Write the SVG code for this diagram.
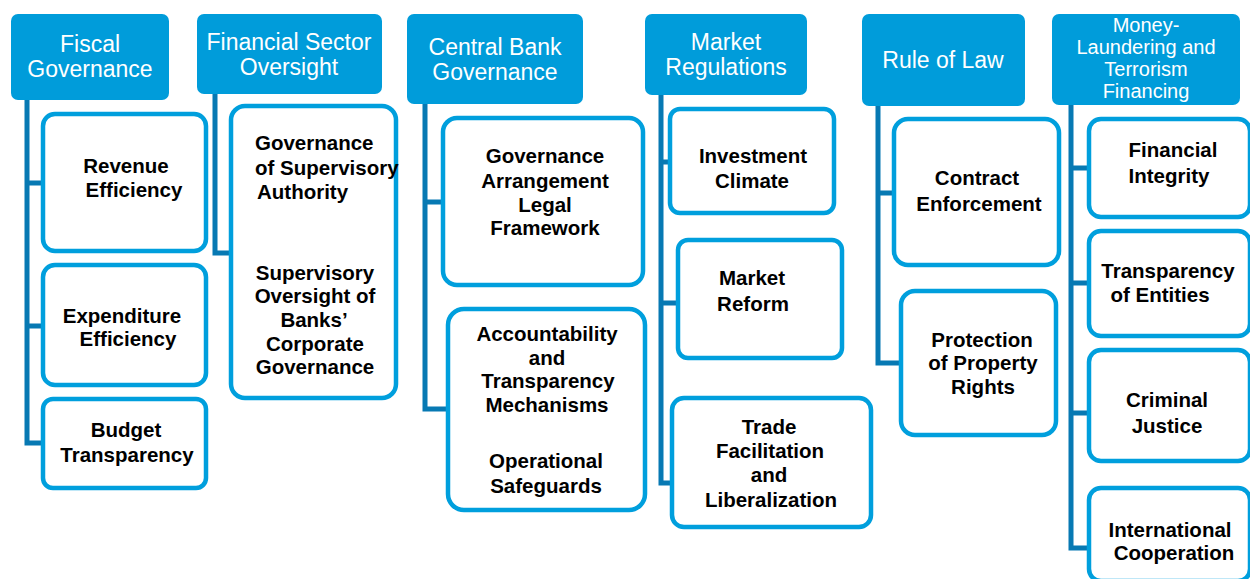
<svg xmlns="http://www.w3.org/2000/svg" width="1250" height="579" viewBox="0 0 1250 579">
<style>
.hd{fill:#009CDA}
.ht{fill:#fff;font-family:"Liberation Sans",Arial,sans-serif;font-size:23px;text-anchor:middle}
.ht2{font-size:20px}
.bx{fill:#fff;stroke:#009FDD;stroke-width:4.5}
.bt{fill:#000;font-family:"Liberation Sans",Arial,sans-serif;font-size:20.5px;font-weight:bold;text-anchor:middle}
.cn{fill:none;stroke:#0779B3;stroke-width:5}
</style>
<rect width="1250" height="579" fill="#fff"/>
<g id="connectors" class="cn">
<path d="M27 100V443H45M27 183H45M27 326H45"/>
<path d="M215 94V253H233"/>
<path d="M425 104V409H450M425 202H445"/>
<path d="M661 95V483H674M661 162H672M661 303H680"/>
<path d="M878 106V363H903M878 193H896"/>
<path d="M1071 105V548H1091M1071 168H1091M1071 283H1091M1071 413H1091"/>
</g>
<g id="fiscal">
<rect class="hd" x="11" y="14" width="158" height="86" rx="7"/>
<text class="ht" x="90" y="52">Fiscal</text>
<text class="ht" x="90" y="77">Governance</text>
</g>
<g id="revenue"><rect class="bx" x="43" y="114" width="163" height="137" rx="12"/>
<text class="bt"><tspan x="126" y="173">Revenue</tspan><tspan x="134" y="197">Efficiency</tspan></text></g>
<g id="expenditure"><rect class="bx" x="43" y="265" width="163" height="120" rx="12"/>
<text class="bt"><tspan x="122" y="323">Expenditure</tspan><tspan x="128" y="346">Efficiency</tspan></text></g>
<g id="budget"><rect class="bx" x="43" y="399" width="163" height="89" rx="10"/>
<text class="bt"><tspan x="126" y="437">Budget</tspan><tspan x="127" y="462">Transparency</tspan></text></g>

<g id="finsec">
<rect class="hd" x="197" y="14" width="185" height="80" rx="7"/>
<text class="ht" x="289" y="50">Financial Sector</text>
<text class="ht" x="289" y="75">Oversight</text>
</g>
<g id="supervisory"><rect class="bx" x="231" y="106" width="165" height="292" rx="14"/>
<text class="bt" style="text-anchor:start"><tspan x="255" y="150">Governance</tspan><tspan x="255" y="175">of Supervisory</tspan><tspan x="257" y="199">Authority</tspan></text>
<text class="bt"><tspan x="315" y="280">Supervisory</tspan><tspan x="315" y="303">Oversight of</tspan><tspan x="314" y="327">Banks’</tspan><tspan x="315" y="351">Corporate</tspan><tspan x="315" y="374">Governance</tspan></text></g>

<g id="centralbank">
<rect class="hd" x="407" y="14" width="176" height="90" rx="7"/>
<text class="ht" x="495" y="55">Central Bank</text>
<text class="ht" x="495" y="80">Governance</text>
</g>
<g id="legal"><rect class="bx" x="443" y="118" width="200" height="167" rx="14"/>
<text class="bt"><tspan x="545" y="163">Governance</tspan><tspan x="545" y="188">Arrangement</tspan><tspan x="545" y="212">Legal</tspan><tspan x="545" y="235">Framework</tspan></text></g>
<g id="accountability"><rect class="bx" x="448" y="309" width="197" height="201" rx="16"/>
<text class="bt"><tspan x="547" y="341">Accountability</tspan><tspan x="547" y="365">and</tspan><tspan x="548" y="388">Transparency</tspan><tspan x="547" y="412">Mechanisms</tspan><tspan x="546" y="468">Operational</tspan><tspan x="546" y="493">Safeguards</tspan></text></g>

<g id="market">
<rect class="hd" x="645" y="14" width="162" height="81" rx="7"/>
<text class="ht" x="726" y="50">Market</text>
<text class="ht" x="726" y="75">Regulations</text>
</g>
<g id="investment"><rect class="bx" x="670" y="109" width="164" height="104" rx="10"/>
<text class="bt"><tspan x="753" y="163">Investment</tspan><tspan x="752" y="188">Climate</tspan></text></g>
<g id="reform"><rect class="bx" x="678" y="240" width="164" height="118" rx="10"/>
<text class="bt"><tspan x="752" y="285">Market</tspan><tspan x="753" y="311">Reform</tspan></text></g>
<g id="trade"><rect class="bx" x="672" y="398" width="199" height="129" rx="12"/>
<text class="bt"><tspan x="769" y="434">Trade</tspan><tspan x="770" y="458">Facilitation</tspan><tspan x="769" y="482">and</tspan><tspan x="771" y="507">Liberalization</tspan></text></g>

<g id="ruleoflaw">
<rect class="hd" x="862" y="14" width="163" height="92" rx="7"/>
<text class="ht" x="943" y="68">Rule of Law</text>
</g>
<g id="contract"><rect class="bx" x="894" y="119" width="165" height="146" rx="14"/>
<text class="bt"><tspan x="977" y="185">Contract</tspan><tspan x="979" y="211">Enforcement</tspan></text></g>
<g id="property"><rect class="bx" x="901" y="291" width="155" height="144" rx="14"/>
<text class="bt"><tspan x="982" y="347">Protection</tspan><tspan x="983" y="370">of Property</tspan><tspan x="983" y="394">Rights</tspan></text></g>

<g id="moneylaundering">
<rect class="hd" x="1052" y="14" width="188" height="91" rx="7"/>
<text class="ht ht2"><tspan x="1146" y="32">Money-</tspan><tspan x="1146" y="54">Laundering and</tspan><tspan x="1146" y="76">Terrorism</tspan><tspan x="1146" y="98">Financing</tspan></text>
</g>
<g id="integrity"><rect class="bx" x="1089" y="119" width="161" height="98" rx="12"/>
<text class="bt"><tspan x="1173" y="157">Financial</tspan><tspan x="1169" y="183">Integrity</tspan></text></g>
<g id="entities"><rect class="bx" x="1089" y="231" width="161" height="105" rx="12"/>
<text class="bt"><tspan x="1168" y="278">Transparency</tspan><tspan x="1160" y="302">of Entities</tspan></text></g>
<g id="criminal"><rect class="bx" x="1089" y="350" width="161" height="111" rx="12"/>
<text class="bt"><tspan x="1167" y="407">Criminal</tspan><tspan x="1167" y="433">Justice</tspan></text></g>
<g id="international"><rect class="bx" x="1089" y="488" width="161" height="93" rx="12"/>
<text class="bt"><tspan x="1170" y="537">International</tspan><tspan x="1174" y="560">Cooperation</tspan></text></g>
</svg>
